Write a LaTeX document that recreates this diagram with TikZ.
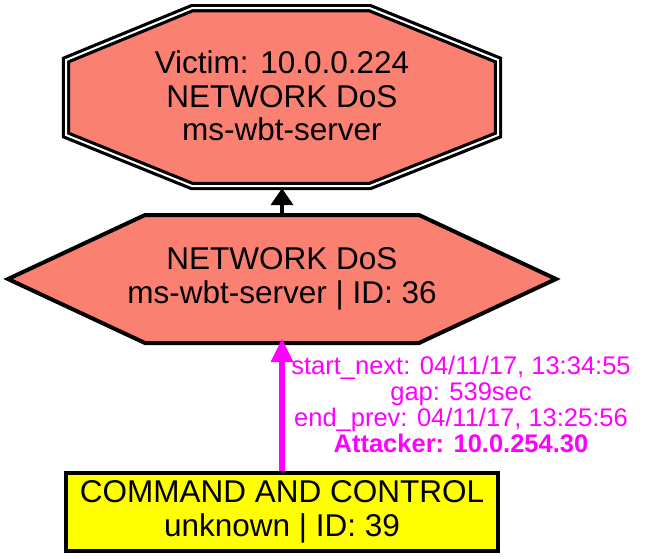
\documentclass[tikz,border=0pt]{standalone}
\usepackage{fontspec}
\setmainfont{Liberation Sans}
\usetikzlibrary{arrows.meta}
\definecolor{salmonc}{HTML}{FA8072}
\definecolor{magc}{HTML}{FF00FF}
\definecolor{yelc}{HTML}{FFFF00}
\begin{document}
\begin{tikzpicture}[x=1pt,y=-1pt,
  nodetext/.style={align=center, inner sep=0pt, font=\fontsize{31.5}{33.5}\selectfont},
  lbltext/.style={align=center, inner sep=0pt, text=magc, font=\fontsize{25.5}{26}\selectfont},
  shapeline/.style={draw=black, line width=4pt, line join=miter},
  dblline/.style={draw=black, line width=3.2pt, double=white, double distance=2pt, line join=miter},
  blackarrow/.style={draw=black, line width=4pt, -{Triangle[length=17pt,width=22pt]}},
  magarrow/.style={draw=magc, line width=6.5pt, -{Triangle[length=24pt,width=21pt]}},
]
\useasboundingbox (0,0) rectangle (645,558);
\fill[white] (0,0) rectangle (645,558);

% shapes
\draw[dblline, fill=salmonc] (192,8.2) -- (370,8.2) -- (498,60) -- (498,135) -- (370,186) -- (192,186) -- (66,135) -- (66,60) -- cycle;
\draw[shapeline, fill=salmonc] (8,279) -- (145,215) -- (419,215) -- (556,279) -- (419,343) -- (145,343) -- cycle;
\draw[draw=black, line width=3.5pt, fill=yelc] (66,473) rectangle (498,551);

% nodes
\node[nodetext, minimum width=440pt, minimum height=186pt] (oct) at (282,96) {Victim: 10.0.0.224\\NETWORK DoS\\ms-wbt-server};
\node[nodetext, minimum width=556pt, minimum height=130pt] (hex) at (282,279) {NETWORK DoS\\ms-wbt-server | ID: 36};
\node[nodetext, minimum width=436pt, minimum height=82pt] (cc) at (282,512) {COMMAND AND CONTROL\\unknown | ID: 39};

% connectors
\draw[blackarrow, shorten >=-1pt] (hex.north) -- (oct.south);
\draw[magarrow, shorten >=-6pt] (cc.north) -- (hex.south);

\node[lbltext, anchor=base] (lbl) at (461,452) {start\_next: 04/11/17, 13:34:55\\gap: 539sec\\end\_prev: 04/11/17, 13:25:56\\\textbf{Attacker: 10.0.254.30}};
\end{tikzpicture}
\end{document}
